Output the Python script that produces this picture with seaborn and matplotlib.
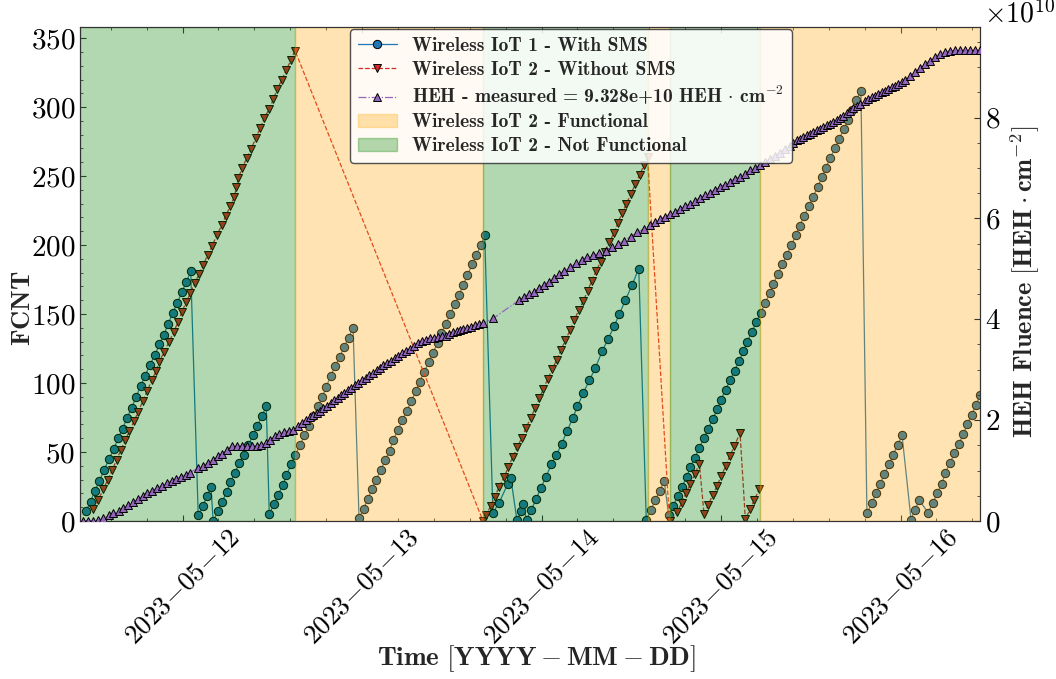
import numpy as np
import pandas as pd
import matplotlib
matplotlib.use("Agg")
import matplotlib.pyplot as plt
from matplotlib.ticker import AutoMinorLocator, MultipleLocator, FuncFormatter
from matplotlib.font_manager import FontProperties
import matplotlib.dates as mdates
import seaborn as sns

# time origin, all x values are hours after it
T0 = pd.Timestamp("2023-05-11 00:00")

# Wireless IoT 1 - with SMS (FCNT)
iot1_hours = [
    11.1, 11.7, 12.3, 12.9, 13.5, 14.2, 14.8, 15.4, 16.0, 16.6, 17.2, 17.8, 18.4, 19.0, 19.6, 20.3,
    20.9, 21.5, 22.1, 22.7, 23.3, 23.9, 24.5, 25.1,
    26.1, 26.7, 27.3, 27.8,
    28.1, 28.7, 29.3, 29.9, 30.4, 31.0, 31.6, 32.2, 32.8, 33.4, 34.0, 34.6, 35.2,
    35.6, 36.2, 36.8, 37.4, 37.9, 38.5, 39.1, 39.7, 40.3, 40.9, 41.5, 42.1, 42.7, 43.2, 43.8, 44.4,
    45.0, 45.6, 46.2, 46.8,
    47.6, 48.2, 48.8, 49.3, 49.9, 50.5, 51.1, 51.7, 52.2, 52.8, 53.4, 54.0, 54.6, 55.2, 55.7, 56.3,
    56.9, 57.5, 58.1, 58.6, 59.2, 59.8, 60.4, 61.0, 61.5, 62.1, 62.7, 63.3, 63.9, 64.4,
    65.5, 66.3, 67.5, 67.9,
    68.7, 69.3, 69.5,
    70.0, 70.6, 71.3, 71.9, 72.6, 73.3, 74.0, 74.7, 75.4, 76.2, 76.8, 77.6, 78.4, 79.2, 80.1, 80.9,
    81.7, 82.4, 83.2, 84.1, 85.0,
    86.0, 86.6, 87.2, 87.8, 88.4,
    89.0, 89.6, 90.2, 90.8, 91.4, 91.9, 92.5, 93.1, 93.7, 94.3, 94.9, 95.5, 96.0, 96.6, 97.2, 97.8,
    98.4, 99.0, 99.5, 100.1, 100.7, 101.3, 101.9, 102.5, 103.0, 103.6, 104.2, 104.8, 105.4, 106.0,
    106.5, 107.1, 107.7, 108.3, 108.9, 109.5, 110.0, 110.6, 111.2, 111.8, 112.4, 113.0, 113.5,
    114.1, 114.7,
    115.5, 116.2, 116.7, 117.3, 117.8, 118.5, 119.0, 119.6, 120.2,
    121.4, 121.9, 122.5,
    123.7, 124.3, 124.9, 125.5, 126.0, 126.6, 127.2, 127.8, 128.4, 128.9, 129.5, 130.1, 130.6,
]
iot1_fcnt = [
    7, 14, 22, 29, 37, 45, 52, 60, 67, 75, 82, 90, 98, 105, 113, 120,
    128, 135, 143, 151, 158, 166, 173, 181,
    4, 11, 18, 25,
    0, 7, 14, 21, 28, 35, 42, 48, 55, 62, 69, 76, 83,
    5, 12, 19, 26, 33, 41, 48, 55, 62, 69, 76, 83, 90, 97, 105, 112,
    119, 126, 133, 140,
    2, 9, 16, 23, 30, 37, 44, 51, 59, 66, 73, 80, 87, 94, 101, 108,
    115, 122, 129, 136, 143, 150, 157, 164, 171, 178, 186, 193, 200, 207,
    6, 13, 27, 31,
    1, 7, 12,
    1, 8, 16, 24, 32, 41, 48, 56, 65, 75, 83, 93, 102, 111, 123, 132,
    141, 150, 160, 171, 183,
    1, 8, 15, 22, 29,
    4, 11, 18, 25, 32, 39, 46, 53, 60, 67, 74, 81, 88, 95, 102, 109,
    116, 123, 130, 137, 144, 151, 158, 165, 172, 179, 186, 193, 200, 207,
    214, 221, 228, 235, 242, 249, 256, 263, 270, 277, 284, 291, 298,
    305, 312,
    6, 13, 20, 27, 34, 41, 48, 55, 62,
    1, 8, 15,
    6, 13, 20, 27, 35, 42, 49, 56, 63, 70, 77, 84, 91,
]

# Wireless IoT 2 - without SMS (FCNT)
iot2_hours = [
    12.07, 12.74, 13.41, 14.00, 14.61, 15.20, 15.78, 16.31, 16.89, 17.52, 18.09, 18.68, 19.29,
    19.88, 20.46, 20.90, 21.57, 22.20, 22.82, 23.36, 23.89, 24.47, 25.04, 25.63, 26.21, 26.78,
    27.37, 27.98, 28.57, 29.24, 29.78, 30.35, 30.93, 31.20, 31.46, 32.00, 32.58, 33.16, 33.79,
    34.36, 34.94, 35.57, 36.14, 36.67, 37.26, 37.84, 38.47, 39.04,
    64.18, 64.58, 65.21, 65.74, 66.36, 66.98, 67.56, 68.15, 68.76, 69.35, 69.93, 70.55, 71.13,
    71.70, 72.24, 72.83, 73.44, 74.03, 74.61, 75.18, 75.81, 76.38, 76.97, 77.59, 78.18, 78.71,
    79.28, 79.91, 80.49, 81.06, 81.69, 82.19, 82.76, 83.35, 83.94, 84.53, 85.12, 85.71, 86.17,
    89.11, 90.15, 90.74, 91.32, 91.89, 92.48, 93.10,
    93.73, 94.30, 94.89, 95.46, 96.04, 96.63, 97.20, 97.78, 98.54,
    99.25, 99.88, 100.45, 101.12,
]
iot2_fcnt = [
    8.5, 15.3, 23, 29.8, 37, 44.4, 51.7, 58.4, 65, 72.3, 79.3, 86.8, 94.4,
    101.9, 108.7, 115.5, 122.8, 130, 136.8, 143.9, 151.2, 158.4, 165.2, 172.3, 179, 185.8,
    193, 199.6, 207, 214.3, 221.2, 228, 235, 242, 248.7, 256, 263, 269.7, 277.3,
    284.6, 291.8, 298.6, 305.7, 313, 319.7, 326.6, 333.8, 341,
    0, 4.4, 10.9, 17.7, 25, 31.8, 39, 46.4, 53.4, 60.4, 67.5, 74.7, 81.7,
    88.8, 95.8, 103, 110, 117, 124, 131, 138.3, 145.6, 152.8, 159.6, 166.9, 174.2,
    181, 188, 195.3, 202, 208.9, 216, 223, 230, 237, 244, 251, 258, 264,
    0, 6.3, 13.3, 20.2, 27, 34, 41.3,
    4.9, 11.9, 18.9, 25.5, 32.8, 40, 47.3, 54.4, 63.8,
    1.2, 8.5, 15.3, 23.3,
]

# HEH fluence, in units of 1e10 HEH/cm^2
heh_hours = [
    10.70, 11.37, 12.03, 12.70,
    13.41, 14.17, 14.75, 15.51, 16.09, 16.75, 17.42, 18.09, 18.68, 19.29, 19.96, 20.63, 21.22,
    21.89, 22.56, 23.13, 23.80, 24.47, 25.00,
    26.11, 26.78, 27.37, 28.04, 28.71, 29.32, 29.91,
    30.66, 31.33, 32.00, 32.58, 33.25, 33.92, 34.50,
    35.16, 35.70, 36.37, 36.94, 37.61, 38.24, 38.81, 39.48, 40.02, 40.51, 41.05, 41.49, 41.94,
    42.38, 42.83, 43.36, 43.81, 44.30, 44.75, 45.19, 45.63, 46.09, 46.53, 47.06, 47.50, 47.96,
    48.53, 48.98, 49.43, 49.96, 50.41, 50.85, 51.30, 51.88, 52.41, 52.85, 53.39, 53.88, 54.42,
    54.95, 55.45, 55.98, 56.52, 57.09, 57.63, 58.20, 58.66, 59.19, 59.67, 60.21, 60.66, 61.10,
    61.54, 62.00, 62.57, 63.11, 63.64, 64.14, 65.56,
    69.03, 69.66, 70.33, 71.00, 71.66, 72.33, 73.04, 73.71, 74.38, 75.05, 75.81, 76.61, 77.37,
    78.12, 78.92, 79.73, 80.58, 81.38, 82.19, 83.03, 83.92, 84.81, 85.70, 86.51, 87.17, 87.84,
    88.51, 89.18, 89.85, 90.52, 91.18, 91.85, 92.52, 93.19, 93.86, 94.53, 95.20, 95.86, 96.53,
    97.20, 97.87, 98.54, 99.21, 99.88, 100.54, 101.21, 101.88, 102.55, 103.22, 103.89, 104.55,
    105.22, 105.62,
    106.12, 106.56, 107.00, 107.46, 107.90, 108.34, 108.79, 109.23, 109.68, 110.13, 110.57,
    111.01, 111.47, 111.91, 112.35, 112.80, 113.25, 113.69, 114.14, 114.58, 115.25, 115.69,
    116.15, 116.59, 117.03, 117.48, 117.92, 118.37, 118.82, 119.26, 119.70, 120.16, 120.60,
    121.27, 121.94, 122.60, 123.27, 123.94, 124.61, 125.28, 125.95, 126.62, 127.28, 127.95,
    128.62, 129.29, 129.96, 130.63,
]
heh_fluence = [
    0, 0, 0, 0.01,
    0.05, 0.11, 0.15, 0.20, 0.26, 0.31, 0.37, 0.43, 0.50, 0.55, 0.60, 0.65, 0.70,
    0.75, 0.80, 0.84, 0.88, 0.92, 0.96,
    1.05, 1.09, 1.15, 1.21, 1.28, 1.33, 1.41,
    1.49, 1.49, 1.49, 1.49, 1.49, 1.49, 1.50,
    1.55, 1.61, 1.68, 1.73, 1.77, 1.79, 1.81, 1.88, 1.95, 2.01, 2.06, 2.11, 2.14,
    2.19, 2.24, 2.29, 2.34, 2.39, 2.44, 2.49, 2.54, 2.59, 2.64, 2.69, 2.74, 2.79,
    2.84, 2.89, 2.94, 2.99, 3.04, 3.09, 3.14, 3.18, 3.24, 3.28, 3.34, 3.38, 3.42,
    3.47, 3.52, 3.56, 3.59, 3.62, 3.62, 3.64, 3.66, 3.67, 3.70, 3.74, 3.76, 3.78,
    3.80, 3.82, 3.85, 3.88, 3.90, 3.92, 4.02,
    4.38, 4.44, 4.50, 4.55, 4.61, 4.68, 4.74, 4.82, 4.89, 4.96, 5.03, 5.11, 5.18,
    5.23, 5.27, 5.31, 5.36, 5.43, 5.49, 5.56, 5.64, 5.73, 5.79, 5.87, 5.92, 5.99,
    6.03, 6.09, 6.13, 6.19, 6.25, 6.29, 6.35, 6.41, 6.47, 6.51, 6.57, 6.63, 6.67,
    6.73, 6.79, 6.83, 6.89, 6.95, 7.00, 7.06, 7.12, 7.18, 7.24, 7.30, 7.38,
    7.44, 7.50,
    7.55, 7.58, 7.62, 7.65, 7.68, 7.72, 7.75, 7.78, 7.81, 7.85, 7.88,
    7.91, 7.95, 7.99, 8.03, 8.08, 8.13, 8.18, 8.23, 8.26, 8.32, 8.36,
    8.40, 8.43, 8.46, 8.50, 8.53, 8.56, 8.60, 8.63, 8.66, 8.71, 8.74,
    8.82, 8.90, 8.98, 9.06, 9.13, 9.20, 9.26, 9.30, 9.32, 9.33, 9.33,
    9.33, 9.33, 9.33, 9.33,
]
heh_total = 9.328e10

# IoT 2 state periods (hours after T0)
state_edges = [10.3, 39.0, 64.2, 86.2, 89.2, 101.2, 130.63]
state_functional = [False, True, False, True, False, True]


def to_time(hours):
    return T0 + pd.to_timedelta(np.asarray(hours, dtype=float), unit="h")


def date_label(x, pos):
    # grouped minus keeps the latex-like look without operator spacing
    return "$" + mdates.num2date(x).strftime("%Y{-}%m{-}%d") + "$"


sns.set_style("ticks")
plt.rcParams.update({
    "font.family": "cmr10",
    "mathtext.fontset": "cm",
    "axes.formatter.use_mathtext": True,
    "axes.linewidth": 0.8,
    "axes.edgecolor": "#333333",
    "xtick.direction": "in",
    "ytick.direction": "in",
    "xtick.major.size": 4,
    "ytick.major.size": 4,
    "xtick.minor.size": 2,
    "ytick.minor.size": 2,
    "xtick.color": "#333333",
    "ytick.color": "#333333",
    "xtick.labelcolor": "black",
    "ytick.labelcolor": "black",
})

fig = plt.figure(figsize=(10.56, 6.79), dpi=100)
ax1 = fig.add_axes([0.0758, 0.2327, 0.8523, 0.7275])

sns.lineplot(x=to_time(iot1_hours), y=iot1_fcnt, ax=ax1, color="tab:blue", lw=0.9,
             marker="o", markersize=6, markeredgecolor="black", markeredgewidth=0.7,
             errorbar=None, label="Wireless IoT 1 - With SMS", legend=False)
sns.lineplot(x=to_time(iot2_hours), y=iot2_fcnt, ax=ax1, color="tab:red", lw=0.9,
             linestyle="--", marker="v", markersize=6, markeredgecolor="black",
             markeredgewidth=0.7, errorbar=None,
             label="Wireless IoT 2 - Without SMS", legend=False)

ax1.set_ylim(0, max(iot2_fcnt) * 1.05)
ax1.yaxis.set_major_locator(MultipleLocator(50))
ax1.yaxis.set_minor_locator(AutoMinorLocator(5))
ax1.xaxis.set_major_locator(mdates.DayLocator())
ax1.xaxis.set_minor_locator(AutoMinorLocator(5))
ax1.xaxis.set_major_formatter(FuncFormatter(date_label))
ax1.tick_params(axis="x", which="both", top=True, labelsize=19.5, pad=3)
ax1.tick_params(axis="y", which="both", right=False, labelsize=21)
plt.setp(ax1.get_xticklabels(), rotation=45, ha="center")
ax1.set_ylabel(r"$\mathbf{FCNT}$", fontsize=19)
ax1.yaxis.set_label_coords(-0.05, 0.43)
ax1.set_xlabel(r"$\mathbf{Time}\ [\mathbf{YYYY-MM-DD}]$", fontsize=19.5)
ax1.xaxis.set_label_coords(0.507, -0.248)

ax2 = ax1.twinx()
span_handles = {}
for a, b, ok in zip(state_edges[:-1], state_edges[1:], state_functional):
    col = "orange" if ok else "green"
    sp = ax2.axvspan(to_time([a])[0], to_time([b])[0], color=col, alpha=0.3, zorder=0)
    span_handles.setdefault(ok, sp)

sns.lineplot(x=to_time(heh_hours), y=np.array(heh_fluence) * 1e10, ax=ax2,
             color="tab:purple", lw=0.9, linestyle="-.", marker="^", markersize=6,
             markeredgecolor="black", markeredgewidth=0.7, errorbar=None, zorder=3,
             label=r"HEH - measured = 9.328e+10 HEH$\,\cdot\,$cm$^{-2}$", legend=False)
ax2.set_ylim(0, heh_total * 1.05)
ax2.yaxis.set_major_locator(MultipleLocator(2e10))
ax2.yaxis.set_minor_locator(AutoMinorLocator(4))
ax2.tick_params(axis="y", which="both", direction="in", labelsize=21)
ax2.set_ylabel(r"$\mathbf{HEH\ Fluence}\ [\mathbf{HEH}\cdot\mathbf{cm}^{-2}]$", fontsize=19)
ax2.yaxis.set_label_coords(1.032, 0.485)
ax1.set_xlim(to_time([state_edges[0]])[0], to_time([state_edges[-1]])[0])

off = ax2.yaxis.get_offset_text()
off.set_fontsize(20)
off.set_horizontalalignment("left")
off.set_x(1.004)

h1, l1 = ax1.get_legend_handles_labels()
h2, l2 = ax2.get_legend_handles_labels()
handles = h1 + h2 + [span_handles[True], span_handles[False]]
labels = l1 + l2 + ["Wireless IoT 2 - Functional", "Wireless IoT 2 - Not Functional"]
leg = ax2.legend(handles, labels, loc="upper left", bbox_to_anchor=(0.298, 1.0),
                 borderaxespad=0.1, prop=FontProperties(family="cmb10", size=14),
                 labelspacing=0.3, framealpha=0.85, edgecolor="#333333", fancybox=True)

fig.savefig("out.png", dpi=100)
